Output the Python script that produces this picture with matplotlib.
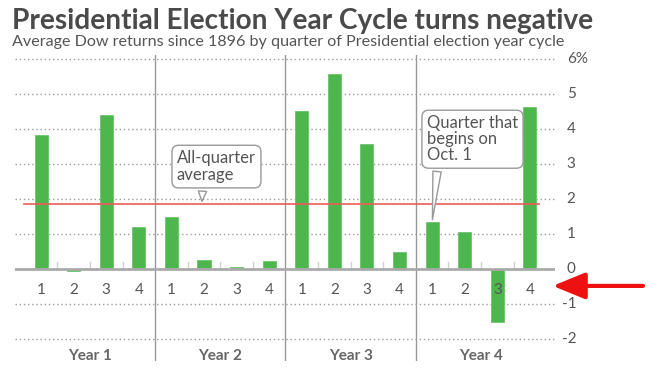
import matplotlib
matplotlib.use("Agg")
import matplotlib.pyplot as plt
import numpy as np

plt.rcParams['font.family'] = ['Lato', 'DejaVu Sans']

# ---- data ----
years = ["Year 1", "Year 2", "Year 3", "Year 4"]
quarters = ["1", "2", "3", "4"]
year1 = [3.81, -0.05, 4.40, 1.19]
year2 = [1.47, 0.27, 0.06, 0.23]
year3 = [4.49, 5.56, 3.56, 0.50]
year4 = [1.33, 1.05, -1.52, 4.63]
all_quarter_avg = 1.85
ytick_values = [-2, -1, 0, 1, 2, 3, 4, 5, 6]
ytick_labels = ["-2", "-1", "0", "1", "2", "3", "4", "5", "6%"]

title = "Presidential Election Year Cycle turns negative"
subtitle = "Average Dow returns since 1896 by quarter of Presidential election year cycle"

values = year1 + year2 + year3 + year4
x = np.arange(len(values))

GREEN = "#4db64d"
TXT = "#555555"

fig = plt.figure(figsize=(6.63, 3.68), dpi=100)
ax = fig.add_axes([15/663, 7/368, 540/663, 306/368])
ax.set_xlim(-0.8, 15.77)
ax.set_ylim(-2.62, 6.1)
ax.axis('off')

# gridlines (dotted)
for v in ytick_values:
    if v != 0:
        ax.plot([-0.8, 15.77], [v, v], color="#9a9a9a", lw=1.0,
                linestyle=(0, (1, 2)), zorder=1)
# year separators
for s in [3.5, 7.5, 11.5]:
    ax.axvline(s, color="#999999", lw=1.0, zorder=1)
# small ticks between bars
for t in np.arange(0.5, 15.5, 1.0):
    if t not in (3.5, 7.5, 11.5):
        ax.plot([t, t], [0, 0.2], color="#d0d0d0", lw=1.0, zorder=1)

ax.bar(x, values, width=0.4, color=GREEN, edgecolor="#6cc46c",
       linewidth=0.6, zorder=3)
ax.axhline(0, color="#aaaaaa", lw=2.0, zorder=4)

# all-quarter average line
ax.plot([-0.52, 15.27], [all_quarter_avg, all_quarter_avg], color="#f05a5a",
        lw=1.2, zorder=5)

# quarter labels
for i, v in enumerate(values):
    ax.text(i, -0.6, quarters[i % 4], ha='center', va='center',
            fontsize=11, color=TXT)
# year labels
for j, y in enumerate(years):
    ax.text(4*j + 1.5, -2.49, y, ha='center', va='center', fontsize=11,
            color="#666666", fontweight='bold')

# y tick labels on the right
for v, lab in zip(ytick_values, ytick_labels):
    xx = 16.13 if v >= 0 else 15.99
    ax.text(xx, v, lab, ha='left', va='center', fontsize=11, color=TXT,
            clip_on=False)

# callouts
bbox = dict(boxstyle="round,pad=0.3,rounding_size=0.4", fc="white",
            ec="#999999", lw=1.0)
ax.annotate("All-quarter\naverage", xy=(4.93, all_quarter_avg),
            xytext=(4.17, 2.92), ha='left', va='center', fontsize=12,
            color=TXT, bbox=bbox, zorder=6, linespacing=1.05,
            arrowprops=dict(arrowstyle="wedge,tail_width=0.5,shrink_factor=0.5",
                            fc="white", ec="#999999", lw=1.0,
                            relpos=(0.33, 0.0)))
ax.annotate("Quarter that\nbegins on\nOct. 1", xy=(12.0, year4[0]),
            xytext=(11.84, 3.7), ha='left', va='center', fontsize=12,
            color=TXT, bbox=bbox, zorder=6, linespacing=1.0,
            arrowprops=dict(arrowstyle="wedge,tail_width=0.5,shrink_factor=0.5",
                            fc="white", ec="#999999", lw=1.0,
                            relpos=(0.12, 0.0)))

# red arrow pointing at zero
ax.annotate("", xy=(15.7, -0.48), xytext=(18.47, -0.48),
            arrowprops=dict(arrowstyle="-|>,head_length=1.1,head_width=0.45",
                            color="#ee1111", lw=3, mutation_scale=18,
                            shrinkA=0, shrinkB=0),
            annotation_clip=False)

# title / subtitle fitted to target widths
r = fig.canvas.get_renderer()
t1 = fig.text(12/663, 1 - 29/368, title, fontsize=20, fontweight='bold',
              color="#4a4a4a", ha='left', va='baseline')
w = t1.get_window_extent(r).width
t1.set_fontsize(20 * 580 / w)
t2 = fig.text(12/663, 1 - 46/368, subtitle, fontsize=12, color=TXT,
              ha='left', va='baseline')
w = t2.get_window_extent(r).width
t2.set_fontsize(12 * 554 / w)

fig.savefig("out.png", dpi=100)
